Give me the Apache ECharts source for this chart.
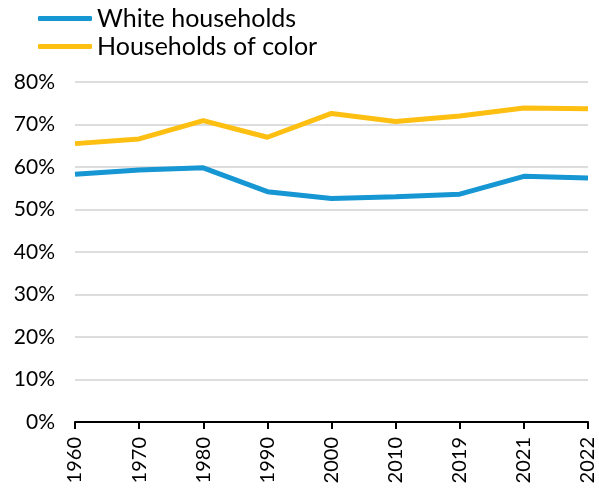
<!DOCTYPE html>
<html>
<head>
<meta charset="utf-8">
<script src="https://cdn.jsdelivr.net/npm/echarts@6/dist/echarts.min.js"></script>
<style>
  html, body { margin: 0; padding: 0; background: #fff; }
  #chart { width: 599px; height: 489px; }
</style>
</head>
<body>
<div id="chart"></div>
<script>
// Share of households (%), by year
const years = ['1960', '1970', '1980', '1990', '2000', '2010', '2019', '2021', '2022'];
const whiteHouseholds = [58.3, 59.3, 59.8, 54.2, 52.6, 53.0, 53.6, 57.8, 57.4];
const householdsOfColor = [65.5, 66.6, 70.9, 67.0, 72.6, 70.7, 72.0, 73.9, 73.7];
const yTicks = [0, 10, 20, 30, 40, 50, 60, 70, 80];

const BLUE = '#1696d2';
const YELLOW = '#fdbf11';
const FONT = 'Lato';

const chart = echarts.init(document.getElementById('chart'), null, { renderer: 'canvas' });

chart.setOption({
  animation: false,
  textStyle: { fontFamily: FONT },
  legend: {
    orient: 'vertical',
    left: 33,
    top: 1,
    itemGap: 3,
    itemWidth: 54,
    itemHeight: 5,
    icon: 'roundRect',
    textStyle: { fontFamily: FONT, fontSize: 25, color: '#000', lineHeight: 25 },
    data: ['White households', 'Households of color']
  },
  grid: { left: 75, right: 11, top: 82, bottom: 67, containLabel: false },
  xAxis: {
    type: 'category',
    data: years,
    boundaryGap: false,
    axisLine: { lineStyle: { color: '#000', width: 2 } },
    axisTick: { alignWithLabel: true, length: 7, lineStyle: { color: '#000', width: 2 } },
    axisLabel: { rotate: 90, fontFamily: FONT, fontSize: 20, color: '#000', margin: 15 }
  },
  yAxis: {
    type: 'value',
    min: yTicks[0],
    max: yTicks[yTicks.length - 1],
    interval: 10,
    axisLine: { show: false },
    axisTick: { show: false },
    splitLine: { lineStyle: { color: '#dedddd', width: 2 } },
    axisLabel: { fontFamily: FONT, fontSize: 21, color: '#000', margin: 20, formatter: v => v + '%' }
  },
  series: [
    {
      name: 'White households',
      type: 'line',
      data: whiteHouseholds,
      showSymbol: false,
      lineStyle: { color: BLUE, width: 5 },
      itemStyle: { color: BLUE }
    },
    {
      name: 'Households of color',
      type: 'line',
      data: householdsOfColor,
      showSymbol: false,
      lineStyle: { color: YELLOW, width: 5 },
      itemStyle: { color: YELLOW }
    }
  ]
});
</script>
</body>
</html>
